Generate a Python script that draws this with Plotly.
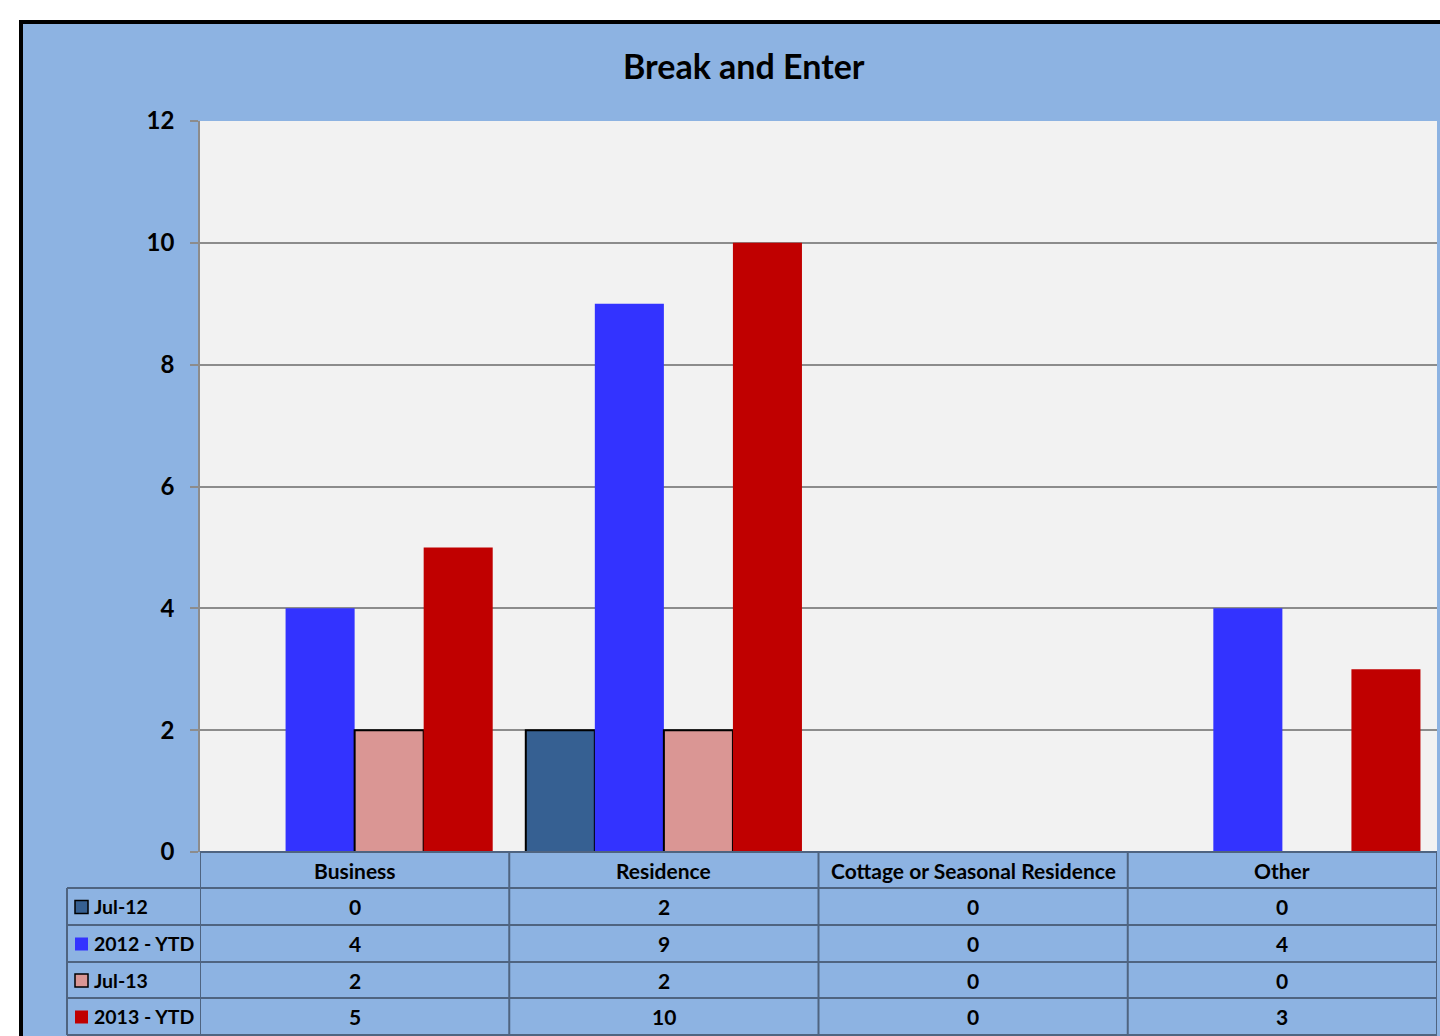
import plotly.graph_objects as go

categories = ["Business", "Residence", "Cottage or Seasonal Residence", "Other"]
series_names = ["Jul-12", "2012 - YTD", "Jul-13", "2013 - YTD"]
jul12 = [0, 2, 0, 0]
ytd2012 = [4, 9, 0, 4]
jul13 = [2, 2, 0, 0]
ytd2013 = [5, 10, 0, 3]
y_ticks = [0, 2, 4, 6, 8, 10, 12]
title_text = "Break and Enter"

series_values = [jul12, ytd2012, jul13, ytd2013]
colors = ["#366092", "#3333FF", "#DA9694", "#C00000"]
outlined = [True, False, True, False]

W, H = 1440, 1036
OFF = 0
FONT = "Lato"
BG = "#8DB3E2"
TABLE_LINE = "#4F6480"


def px(x):
    return (x - OFF) / W


def py(y):
    return 1 - (y - OFF) / H


plot_left, plot_right, plot_top, plot_bottom = 200, 1437, 121, 852

fig = go.Figure()
xs = list(range(len(categories)))
for name, vals, col, outl in zip(series_names, series_values, colors, outlined):
    lw = [2 if (outl and v > 0) else 0 for v in vals]
    fig.add_trace(go.Bar(
        x=xs, y=vals, name=name,
        marker=dict(color=col, line=dict(color="#000000", width=lw)),
        showlegend=False, hoverinfo="y",
    ))

shapes = []
shapes.append(dict(type="rect", xref="paper", yref="paper",
                   x0=px(21), x1=1.05, y0=-0.05, y1=py(22),
                   fillcolor=BG, line=dict(color="#000000", width=4), layer="below"))
shapes.append(dict(type="rect", xref="paper", yref="paper",
                   x0=px(plot_left), x1=px(plot_right), y0=py(plot_bottom), y1=py(plot_top),
                   fillcolor="#F2F2F2", line=dict(width=0), layer="below"))

row_edges = [852, 888, 925, 962, 998, 1035]
table_left = 67
shapes.append(dict(type="line", xref="x", yref="paper", x0=-0.5, x1=len(categories) - 0.5,
                   y0=py(row_edges[0]), y1=py(row_edges[0]),
                   line=dict(color=TABLE_LINE, width=2)))
for r in row_edges[1:]:
    shapes.append(dict(type="line", xref="paper", yref="paper", x0=px(table_left), x1=px(plot_right),
                       y0=py(r), y1=py(r), line=dict(color=TABLE_LINE, width=2)))
for i in range(len(categories) + 1):
    shapes.append(dict(type="line", xref="x", yref="paper", x0=i - 0.5, x1=i - 0.5,
                       y0=py(row_edges[0]), y1=py(row_edges[-1]),
                       line=dict(color=TABLE_LINE, width=2)))
shapes.append(dict(type="line", xref="paper", yref="paper", x0=px(table_left), x1=px(table_left),
                   y0=py(row_edges[1]), y1=py(row_edges[-1]),
                   line=dict(color=TABLE_LINE, width=2)))

annotations = []
annotations.append(dict(text="<b>" + title_text + "</b>", xref="paper", yref="paper",
                        x=px(744), y=py(66), showarrow=False,
                        font=dict(family=FONT, size=34, color="#000000"),
                        xanchor="center", yanchor="middle"))
hdr_y = (row_edges[0] + row_edges[1]) / 2
for i, c in enumerate(categories):
    annotations.append(dict(text="<b>" + c + "</b>", xref="x", yref="paper", x=i, y=py(hdr_y),
                            showarrow=False, font=dict(family=FONT, size=21, color="#000000"),
                            xanchor="center", yanchor="middle"))
for k, (name, vals, col, outl) in enumerate(zip(series_names, series_values, colors, outlined)):
    yc = (row_edges[k + 1] + row_edges[k + 2]) / 2
    for i, v in enumerate(vals):
        annotations.append(dict(text="<b>%d</b>" % v, xref="x", yref="paper", x=i, y=py(yc),
                                showarrow=False, font=dict(family=FONT, size=21, color="#000000"),
                                xanchor="center", yanchor="middle"))
    annotations.append(dict(text="<b>" + name + "</b>", xref="paper", yref="paper", x=px(92), y=py(yc),
                            showarrow=False, font=dict(family=FONT, size=19.5, color="#000000"),
                            xanchor="left", yanchor="middle"))
    shapes.append(dict(type="rect", xref="paper", yref="paper",
                       x0=px(75), x1=px(88), y0=py(yc + 7), y1=py(yc - 6),
                       fillcolor=col,
                       line=dict(color="#000000", width=1.5 if outl else 0)))

fig.update_layout(
    width=W, height=H,
    margin=dict(l=0, r=0, t=0, b=0, pad=0, autoexpand=False),
    paper_bgcolor="#FFFFFF",
    plot_bgcolor="rgba(0,0,0,0)",
    barmode="group", bargap=0.107, bargroupgap=0,
    shapes=shapes, annotations=annotations,
    xaxis=dict(domain=[px(plot_left), px(plot_right)], range=[-0.5, len(categories) - 0.5],
               showticklabels=False, showgrid=False, zeroline=False, showline=False,
               fixedrange=True, automargin=False),
    yaxis=dict(domain=[py(plot_bottom), py(plot_top)], range=[0, 12],
               tickvals=y_ticks, ticktext=["<b>%d</b>" % t for t in y_ticks],
               tickfont=dict(family=FONT, size=24, color="#000000"),
               showgrid=True, gridcolor="#8C8C8C", gridwidth=1.5,
               zeroline=False, showline=True, linecolor="#8C8C8C", linewidth=1.5,
               ticks="outside", ticklen=8, tickcolor="#8C8C8C", tickwidth=1.5,
               ticklabelstandoff=11, fixedrange=True, automargin=False),
    showlegend=False,
)

fig.write_html(
    "out.html",
    config={"displayModeBar": False},
    post_script="document.body.style.margin='0';document.body.style.overflow='hidden';",
)
